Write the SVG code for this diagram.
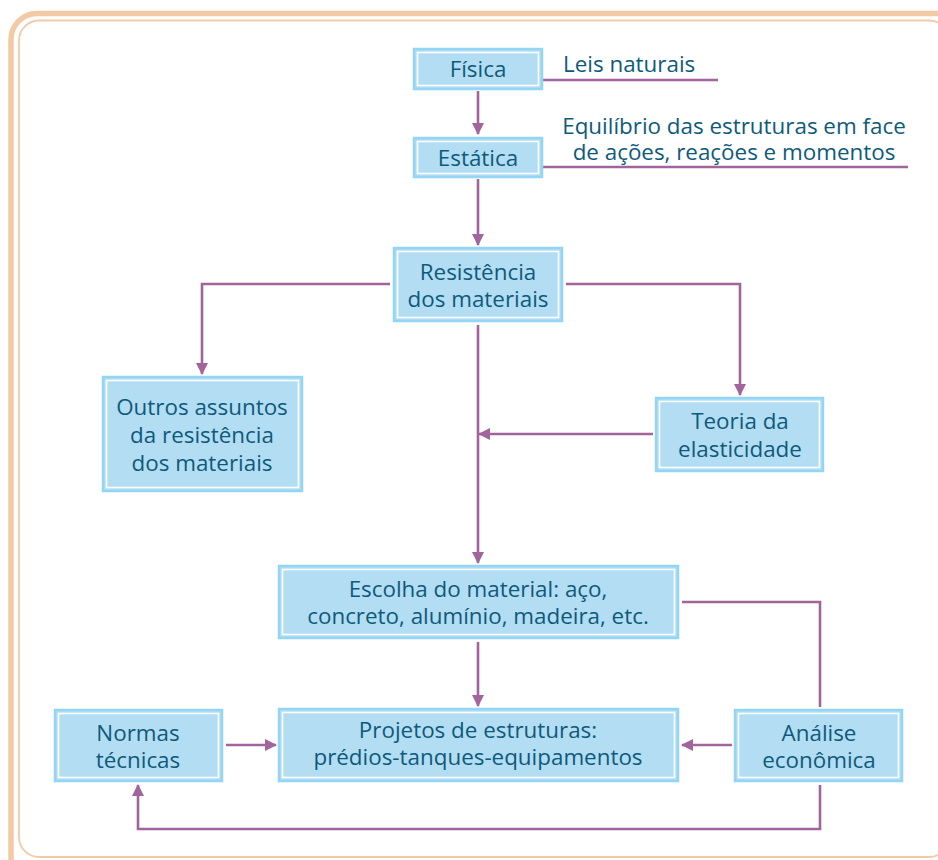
<svg xmlns="http://www.w3.org/2000/svg" width="938" height="860" viewBox="0 0 938 860">
<defs>
<style>
.frame-o{fill:none;stroke:#f2caa6;stroke-width:5.5}
.frame-i{fill:none;stroke:#f2caa6;stroke-width:1.8}
.box{fill:#b3ddf3;stroke:#92d5f4;stroke-width:2.5}
.inner{fill:none;stroke:#ffffff;stroke-width:1.6}
.t{font-family:"Open Sans","Noto Sans",sans-serif;font-size:22.4px;fill:#0e5a7b;text-anchor:middle}
.lbl{font-family:"Open Sans","Noto Sans",sans-serif;font-size:22.4px;fill:#0e5a7b}
.c{fill:none;stroke:#a2649c;stroke-width:2.6}
</style>
<marker id="ah" viewBox="0 0 12 12" refX="11" refY="6" markerWidth="12" markerHeight="12" markerUnits="userSpaceOnUse" orient="auto">
<path d="M0,0 L12,6 L0,12 Z" fill="#a2649c"/>
</marker>
</defs>
<rect x="0" y="0" width="938" height="860" fill="#ffffff"/>
<g id="frame">
<rect class="frame-o" x="11" y="13.5" width="960" height="870" rx="26"/>
<rect class="frame-i" x="19" y="20.5" width="930" height="836.5" rx="20"/>
</g>
<g id="connectors">
<line class="c" x1="478" y1="91" x2="478" y2="134" marker-end="url(#ah)"/>
<line class="c" x1="478" y1="179" x2="478" y2="245" marker-end="url(#ah)"/>
<polyline class="c" points="390,284 202,284 202,374" marker-end="url(#ah)"/>
<polyline class="c" points="566,284 740,284 740,395" marker-end="url(#ah)"/>
<line class="c" x1="478" y1="325" x2="478" y2="563" marker-end="url(#ah)"/>
<line class="c" x1="653" y1="434" x2="479" y2="434" marker-end="url(#ah)"/>
<line class="c" x1="478" y1="642" x2="478" y2="706" marker-end="url(#ah)"/>
<polyline class="c" points="682,602 820,602 820,707"/>
<line class="c" x1="732" y1="745" x2="682" y2="745" marker-end="url(#ah)"/>
<line class="c" x1="226" y1="745" x2="276" y2="745" marker-end="url(#ah)"/>
<polyline class="c" points="820,785 820,829 138,829 138,785" marker-end="url(#ah)"/>
<line class="c" x1="543" y1="80" x2="718" y2="80"/>
<line class="c" x1="543" y1="167" x2="908" y2="167"/>
</g>
<g id="leis">
<text class="lbl" x="563" y="72">Leis naturais</text>
</g>
<g id="equilibrio">
<text class="t" x="734" y="134">Equilíbrio das estruturas em face</text>
<text class="t" x="734" y="160">de ações, reações e momentos</text>
</g>
<g id="fisica">
<rect class="box" x="414" y="49" width="128" height="40"/>
<rect class="inner" x="417.5" y="52.5" width="121" height="33"/>
<text class="t" x="478" y="77">Física</text>
</g>
<g id="estatica">
<rect class="box" x="414" y="138" width="128" height="39"/>
<rect class="inner" x="417.5" y="141.5" width="121" height="32"/>
<text class="t" x="478" y="166">Estática</text>
</g>
<g id="resistencia">
<rect class="box" x="394" y="248" width="168" height="73"/>
<rect class="inner" x="397.5" y="251.5" width="161" height="66"/>
<text class="t" x="478" y="280">Resistência</text>
<text class="t" x="478" y="307">dos materiais</text>
</g>
<g id="outros">
<rect class="box" x="103" y="377" width="199" height="114"/>
<rect class="inner" x="106.5" y="380.5" width="192" height="107"/>
<text class="t" x="202" y="415">Outros assuntos</text>
<text class="t" x="202" y="443">da resistência</text>
<text class="t" x="202" y="471">dos materiais</text>
</g>
<g id="teoria">
<rect class="box" x="656" y="398" width="167" height="73"/>
<rect class="inner" x="659.5" y="401.5" width="160" height="66"/>
<text class="t" x="740" y="429">Teoria da</text>
<text class="t" x="740" y="457">elasticidade</text>
</g>
<g id="escolha">
<rect class="box" x="279" y="566" width="399" height="72"/>
<rect class="inner" x="282.5" y="569.5" width="392" height="65"/>
<text class="t" x="478" y="597">Escolha do material: aço,</text>
<text class="t" x="478" y="624">concreto, alumínio, madeira, etc.</text>
</g>
<g id="projetos">
<rect class="box" x="279" y="709" width="399" height="72"/>
<rect class="inner" x="282.5" y="712.5" width="392" height="65"/>
<text class="t" x="478" y="738">Projetos de estruturas:</text>
<text class="t" x="478" y="765">prédios-tanques-equipamentos</text>
</g>
<g id="normas">
<rect class="box" x="55" y="710" width="167" height="71"/>
<rect class="inner" x="58.5" y="713.5" width="160" height="64"/>
<text class="t" x="138" y="741">Normas</text>
<text class="t" x="138" y="768">técnicas</text>
</g>
<g id="analise">
<rect class="box" x="735" y="710" width="167" height="71"/>
<rect class="inner" x="738.5" y="713.5" width="160" height="64"/>
<text class="t" x="819" y="741">Análise</text>
<text class="t" x="819" y="768">econômica</text>
</g>
</svg>
